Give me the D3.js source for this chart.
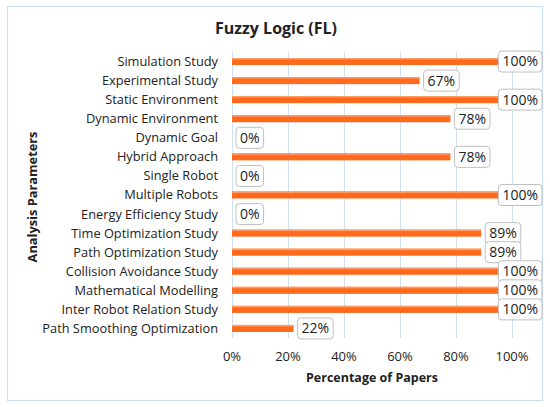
<!DOCTYPE html>
<html>
<head>
<meta charset="utf-8">
<script src="https://cdn.jsdelivr.net/npm/d3@7"></script>
<style>
  body { margin: 0; background: #fff; }
  text { font-family: "Open Sans", sans-serif; fill: #222; }
</style>
</head>
<body>
<div id="chart"></div>
<script>
// data
const categories = [
  "Simulation Study", "Experimental Study", "Static Environment", "Dynamic  Environment",
  "Dynamic Goal", "Hybrid Approach", "Single Robot", "Multiple Robots",
  "Energy Efficiency Study", "Time Optimization Study", "Path Optimization Study",
  "Collision Avoidance Study", "Mathematical Modelling", "Inter Robot Relation Study",
  "Path Smoothing Optimization"
];
const percents = [100, 67, 100, 78, 0, 78, 0, 100, 0, 89, 89, 100, 100, 100, 22];
const xTicks = [0, 20, 40, 60, 80, 100];

const W = 550, H = 407;
const plot = {left: 232, right: 512, top: 52, bottom: 338};
const frameRight = 542;

const svg = d3.select("#chart").append("svg")
  .attr("width", W).attr("height", H);

// outer chart frame
svg.append("rect")
  .attr("x", 7.5).attr("y", 6.5)
  .attr("width", 535).attr("height", 394)
  .attr("fill", "#fff").attr("stroke", "#c9dff2").attr("stroke-width", 1.2);

const x = d3.scaleLinear().domain([0, 100]).range([plot.left, plot.right]);
const y = d3.scaleBand().domain(categories).range([plot.top, plot.bottom]).paddingInner(0.63).paddingOuter(0.315);

// gridlines
svg.append("g").selectAll("line")
  .data(xTicks)
  .enter().append("line")
    .attr("x1", d => x(d) + 0.5).attr("x2", d => x(d) + 0.5)
    .attr("y1", plot.top).attr("y2", plot.bottom)
    .attr("stroke", "#cfe2f3").attr("stroke-width", 1);

// x tick labels
svg.append("g").selectAll("text")
  .data(xTicks)
  .enter().append("text")
    .attr("x", d => x(d))
    .attr("y", 361)
    .attr("text-anchor", "middle")
    .style("font-size", "13px")
    .text(d => d + "%");

// category labels
svg.append("g").selectAll("text")
  .data(categories)
  .enter().append("text")
    .attr("x", 218)
    .attr("y", d => y(d) + y.bandwidth() / 2)
    .attr("dy", "0.35em")
    .attr("text-anchor", "end")
    .style("font-size", "12.8px")
    .text(d => d);

const rows = categories.map((c, i) => ({cat: c, v: percents[i]}));

// bars
const bars = svg.append("g");
bars.selectAll("rect.bar")
  .data(rows)
  .enter().append("rect")
    .attr("class", "bar")
    .attr("x", plot.left)
    .attr("y", d => y(d.cat))
    .attr("width", d => x(d.v) - plot.left)
    .attr("height", y.bandwidth())
    .attr("fill", "#ff6a1c");
bars.selectAll("rect.shine")
  .data(rows)
  .enter().append("rect")
    .attr("class", "shine")
    .attr("x", plot.left)
    .attr("y", d => y(d.cat))
    .attr("width", d => x(d.v) - plot.left)
    .attr("height", 1.5)
    .attr("fill", "#ff9a66");

// data callouts
const callouts = svg.append("g").selectAll("g")
  .data(rows)
  .enter().append("g");

callouts.each(function(d) {
  const g = d3.select(this);
  const label = d.v + "%";
  const t = g.append("text")
    .attr("dy", "0.35em")
    .attr("text-anchor", "middle")
    .style("font-size", "14px")
    .text(label);
  const tw = t.node().getComputedTextLength();
  const bw = tw + 8, bh = 21;
  let bx = x(d.v) + 4;
  if (bx + bw > frameRight) bx = frameRight - bw;
  const cy = y(d.cat) + y.bandwidth() / 2;
  g.insert("rect", "text")
    .attr("x", bx).attr("y", cy - bh / 2)
    .attr("width", bw).attr("height", bh)
    .attr("rx", 3.5)
    .attr("fill", "#fff").attr("stroke", "#bfbfbf").attr("stroke-width", 1);
  t.attr("x", bx + bw / 2).attr("y", cy);
});

// titles
svg.append("text")
  .attr("x", 276).attr("y", 34)
  .attr("text-anchor", "middle")
  .style("font-size", "16px").style("font-weight", "bold")
  .text("Fuzzy Logic (FL)");

svg.append("text")
  .attr("x", 372).attr("y", 382)
  .attr("text-anchor", "middle")
  .style("font-size", "12.5px").style("font-weight", "bold")
  .text("Percentage of Papers");

svg.append("text")
  .attr("transform", "translate(37,197) rotate(-90)")
  .attr("text-anchor", "middle")
  .style("font-size", "12.8px").style("font-weight", "bold")
  .text("Analysis Parameters");
</script>
</body>
</html>
